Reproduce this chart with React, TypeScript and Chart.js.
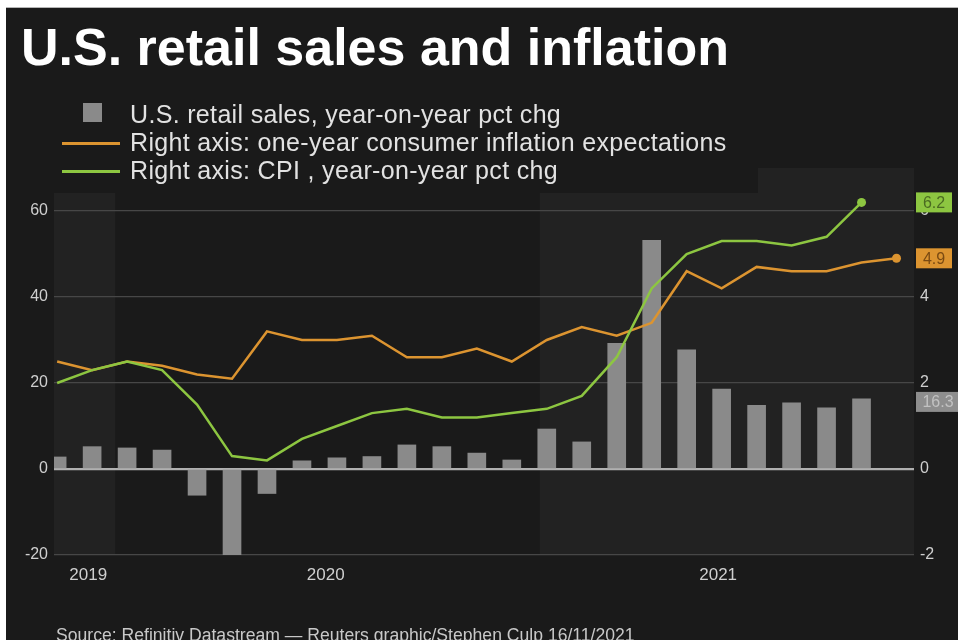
import React, { useEffect, useRef } from 'react';
import { Chart, registerables } from 'chart.js';

Chart.register(...registerables);

// ---------- data ----------
const months = [
  'Nov 2019', 'Dec 2019', 'Jan 2020', 'Feb 2020', 'Mar 2020', 'Apr 2020', 'May 2020',
  'Jun 2020', 'Jul 2020', 'Aug 2020', 'Sep 2020', 'Oct 2020', 'Nov 2020', 'Dec 2020',
  'Jan 2021', 'Feb 2021', 'Mar 2021', 'Apr 2021', 'May 2021', 'Jun 2021', 'Jul 2021',
  'Aug 2021', 'Sep 2021', 'Oct 2021', 'Nov 2021',
];
const retailSales = [
  2.8, 5.2, 4.9, 4.4, -6.1, -20, -5.7, 1.9, 2.6, 2.9, 5.6, 5.2, 3.7, 2.1,
  9.3, 6.3, 29.2, 53.2, 27.7, 18.6, 14.8, 15.4, 14.2, 16.3,
];
const inflationExpectations = [
  2.5, 2.3, 2.5, 2.4, 2.2, 2.1, 3.2, 3.0, 3.0, 3.1, 2.6, 2.6, 2.8, 2.5,
  3.0, 3.3, 3.1, 3.4, 4.6, 4.2, 4.7, 4.6, 4.6, 4.8, 4.9,
];
const cpi = [
  2.0, 2.3, 2.5, 2.3, 1.5, 0.3, 0.2, 0.7, 1.0, 1.3, 1.4, 1.2, 1.2, 1.3,
  1.4, 1.7, 2.6, 4.2, 5.0, 5.3, 5.3, 5.2, 5.4, 6.2,
];
const seriesNames = [
  'U.S. retail sales, year-on-year pct chg',
  'Right axis: one-year consumer inflation expectations',
  'Right axis: CPI , year-on-year pct chg',
];
const leftTicks = [-20, 0, 20, 40, 60];
const rightTicks = [-2, 0, 2, 4, 6];
const yearLabels = ['2019', '2020', '2021'];
const yearLabelAt = [0.89, 7.68, 18.9]; // in month-index units
const yearBoundaries = [1.66, 13.8]; // in month-index units

// ---------- style ----------
const FONT = '"Liberation Sans", Arial, Helvetica, sans-serif';
const BG = '#1a1a1a';
const BAND = '#222222';
const GREY = '#8a8a8a';
const ORANGE = '#dc9430';
const GREEN = '#8dc641';
const TICK = '#cfcfcf';

const bandsPlugin = {
  id: 'yearBands',
  beforeDraw(chart: any) {
    const { ctx, chartArea, scales } = chart;
    const x = scales.x;
    const edges = [x.min, ...yearBoundaries, x.max];
    ctx.save();
    ctx.fillStyle = BAND;
    for (let i = 0; i < edges.length - 1; i += 2) {
      const a = x.getPixelForValue(edges[i]);
      const b = x.getPixelForValue(edges[i + 1]);
      ctx.fillRect(a, chartArea.top, b - a, chartArea.bottom - chartArea.top);
    }
    // legend backdrop covers the top of the bands
    ctx.fillStyle = BG;
    ctx.fillRect(chartArea.left, chartArea.top, 758 - chartArea.left, 25);
    ctx.restore();
  },
};

const endLabelsPlugin = {
  id: 'endLabels',
  afterDraw(chart: any) {
    const { ctx, chartArea } = chart;
    ctx.save();
    ctx.font = `16px ${FONT}`;
    ctx.textAlign = 'center';
    ctx.textBaseline = 'middle';
    chart.data.datasets.forEach((ds: any, i: number) => {
      const meta = chart.getDatasetMeta(i);
      const el = meta.data[meta.data.length - 1];
      const v = ds.data[ds.data.length - 1].y;
      const text = v.toFixed(1);
      const isBar = ds.type === 'bar';
      const w = isBar ? 46 : 36;
      const h = 20;
      const x0 = chartArea.right + 2;
      const yc = el.y + (isBar ? 3 : 0);
      ctx.fillStyle = isBar ? '#8e8e8e' : ds.borderColor;
      ctx.fillRect(x0, yc - h / 2, w, h);
      ctx.fillStyle = isBar ? '#c2c2c2' : ds.labelText;
      ctx.fillText(text, x0 + (isBar ? 22 : w / 2), yc + 1);
    });
    ctx.restore();
  },
};

export default function App() {
  const ref = useRef<HTMLCanvasElement | null>(null);

  useEffect(() => {
    if (!ref.current) return;
    Chart.defaults.font.family = FONT;
    const lastIdxRadius = (n: number) => (c: any) => (c.dataIndex === n - 1 ? 4.5 : 0);
    const chart = new Chart(ref.current, {
      type: 'bar',
      data: {
        datasets: [
          {
            type: 'line',
            label: seriesNames[2],
            data: cpi.map((v, i) => ({ x: i, y: v })),
            yAxisID: 'y1',
            borderColor: GREEN,
            backgroundColor: GREEN,
            borderWidth: 2.5,
            tension: 0,
            pointRadius: lastIdxRadius(cpi.length),
            pointBorderWidth: 0,
            order: 1,
            labelText: '#4b6b22',
          } as any,
          {
            type: 'line',
            label: seriesNames[1],
            data: inflationExpectations.map((v, i) => ({ x: i, y: v })),
            yAxisID: 'y1',
            borderColor: ORANGE,
            backgroundColor: ORANGE,
            borderWidth: 2.5,
            tension: 0,
            pointRadius: lastIdxRadius(inflationExpectations.length),
            pointBorderWidth: 0,
            order: 2,
            labelText: '#7a4a12',
          } as any,
          {
            type: 'bar',
            label: seriesNames[0],
            data: retailSales.map((v, i) => ({ x: i, y: v })),
            yAxisID: 'y',
            backgroundColor: GREY,
            barThickness: 18,
            order: 3,
          } as any,
        ],
      },
      options: {
        responsive: false,
        animation: false,
        events: [],
        layout: { padding: { left: 0, right: 0, top: 168, bottom: 55 } },
        plugins: {
          legend: { display: false },
          tooltip: { enabled: false },
          title: { display: false },
        },
        scales: {
          x: {
            type: 'linear',
            min: -0.09,
            max: 24.5,
            offset: false,
            bounds: 'ticks',
            grid: { display: false, drawTicks: false, offset: false },
            border: { display: false },
            afterBuildTicks: (s: any) => {
              s.ticks = yearLabelAt.map((v) => ({ value: v }));
            },
            afterFit: (s: any) => {
              s.height = 30;
            },
            ticks: {
              autoSkip: false,
              maxRotation: 0,
              padding: 10,
              color: TICK,
              font: { size: 17 },
              callback: (_v: any, i: number) => yearLabels[i],
            },
          },
          y: {
            position: 'left',
            min: -20,
            max: 70,
            afterBuildTicks: (s: any) => {
              s.ticks = leftTicks.map((v) => ({ value: v }));
            },
            afterFit: (s: any) => {
              s.width = 54;
            },
            border: { display: false },
            grid: {
              drawTicks: false,
              color: (c: any) => (c.tick && c.tick.value === 0 ? '#b0b0b0' : '#474747'),
              lineWidth: (c: any) => (c.tick && c.tick.value === 0 ? 2.2 : 1.3),
            },
            ticks: { padding: 6, color: TICK, font: { size: 16 } },
          },
          y1: {
            position: 'right',
            min: -2,
            max: 7,
            afterBuildTicks: (s: any) => {
              s.ticks = rightTicks.map((v) => ({ value: v }));
            },
            afterFit: (s: any) => {
              s.width = 44;
            },
            border: { display: false },
            grid: { display: false, drawTicks: false },
            ticks: { padding: 6, color: TICK, font: { size: 16 } },
          },
        },
      } as any,
      plugins: [bandsPlugin, endLabelsPlugin],
    });
    return () => chart.destroy();
  }, []);

  const legendMarkers = [
    <div key="m0" style={{ position: 'absolute', left: 83, top: 103, width: 19, height: 19, background: GREY }} />,
    <div key="m1" style={{ position: 'absolute', left: 62, top: 142, width: 58, height: 3, background: ORANGE }} />,
    <div key="m2" style={{ position: 'absolute', left: 62, top: 170, width: 58, height: 3, background: GREEN }} />,
  ];

  return (
    <div
      style={{
        position: 'fixed',
        left: 0,
        top: 0,
        width: 958,
        height: 640,
        background: '#ffffff',
        overflow: 'hidden',
        fontFamily: FONT,
      }}
    >
      <div
        style={{
          position: 'absolute',
          left: 6,
          top: 7,
          right: 0,
          bottom: 0,
          background: BG,
          borderTop: '1px solid #b5b5b5',
        }}
      />
      <canvas
        ref={ref}
        width={958}
        height={640}
        style={{ position: 'absolute', left: 0, top: 0, width: 958, height: 640 }}
      />
      <div
        style={{
          position: 'absolute',
          left: 21,
          top: 21,
          fontSize: 52,
          lineHeight: '52px',
          fontWeight: 'bold',
          color: '#ffffff',
          whiteSpace: 'nowrap',
        }}
      >
        U.S. retail sales and inflation
      </div>
      {legendMarkers}
      {seriesNames.map((name, i) => (
        <div
          key={name}
          style={{
            position: 'absolute',
            left: 130,
            top: 100 + 28 * i,
            fontSize: 25,
            lineHeight: '28px',
            letterSpacing: '0.33px',
            color: '#e2e2e2',
            whiteSpace: 'nowrap',
          }}
        >
          {name}
        </div>
      ))}
      <div
        style={{
          position: 'absolute',
          left: 56,
          top: 625,
          fontSize: 17.6,
          lineHeight: '20px',
          color: '#c8c8c8',
          whiteSpace: 'nowrap',
        }}
      >
        Source: Refinitiv Datastream — Reuters graphic/Stephen Culp 16/11/2021
      </div>
    </div>
  );
}
